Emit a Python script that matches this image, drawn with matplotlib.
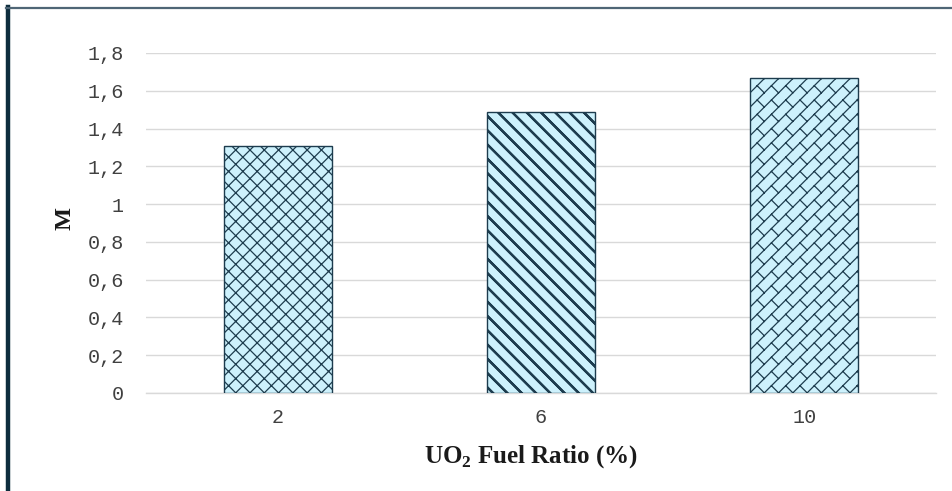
import warnings
warnings.filterwarnings("ignore")
import numpy as np
import matplotlib
matplotlib.use("Agg")
import matplotlib.pyplot as plt
import matplotlib.hatch as mhatch
from matplotlib.path import Path
from matplotlib.lines import Line2D

# ---------------- data ----------------
categories = ["2", "6", "10"]
values = [1.31, 1.49, 1.67]
yticks = [0, 0.2, 0.4, 0.6, 0.8, 1.0, 1.2, 1.4, 1.6, 1.8]
ytick_labels = ["0", "0,2", "0,4", "0,6", "0,8", "1", "1,2", "1,4", "1,6", "1,8"]
xlabel = r"UO$_\mathrm{2}$ Fuel Ratio (%)"
ylabel = "M"


# ---------------- custom hatches ----------------
class CrossHatch(mhatch.HatchPatternBase):
    def __init__(self, hatch, density):
        self.on = 'c' in hatch
        self.n = 7
        self.num_vertices = ((2 * self.n + 1) * 4) if self.on else 0

    def set_vertices_and_codes(self, vertices, codes):
        n = self.n
        i = 0
        for k in range(-n, n + 1):
            c = k / n
            vertices[i] = (-0.05, c - 0.05); codes[i] = Path.MOVETO; i += 1
            vertices[i] = (1.05, 1.05 + c); codes[i] = Path.LINETO; i += 1
            vertices[i] = (-0.05, 1 + c + 0.05); codes[i] = Path.MOVETO; i += 1
            vertices[i] = (1.05, c - 0.05); codes[i] = Path.LINETO; i += 1


class BrickHatch(mhatch.HatchPatternBase):
    def __init__(self, hatch, density):
        self.on = 'b' in hatch
        self.n = 7
        n = self.n
        self.nlines = 2 * n + 1
        self.rows = list(range(-n, n + 2))
        self.js = list(range(-1, n + 2))
        self.num_vertices = (self.nlines * 2 + len(self.rows) * len(self.js) * 2) if self.on else 0

    def set_vertices_and_codes(self, vertices, codes):
        n = self.n
        i = 0
        for k in range(-n, n + 1):
            c = k / n
            vertices[i] = (-0.05, c - 0.05); codes[i] = Path.MOVETO; i += 1
            vertices[i] = (1.05, 1.05 + c); codes[i] = Path.LINETO; i += 1
        d = 1 / (2 * n)
        for k in self.rows:
            for j in self.js:
                t = j / n
                vertices[i] = (t, t + k / n); codes[i] = Path.MOVETO; i += 1
                vertices[i] = (t + d, t + k / n - d); codes[i] = Path.LINETO; i += 1


class StripeHatch(mhatch.HatchPatternBase):
    def __init__(self, hatch, density):
        self.on = 's' in hatch
        self.n = 7
        self.offsets = [-0.009, -0.003, 0.003, 0.009]
        self.num_vertices = ((2 * self.n + 1) * 2 * len(self.offsets)) if self.on else 0

    def set_vertices_and_codes(self, vertices, codes):
        n = self.n
        i = 0
        for k in range(0, 2 * n + 1):
            c = k / n
            for o in self.offsets:
                vertices[i] = (-0.05, c + o + 0.05); codes[i] = Path.MOVETO; i += 1
                vertices[i] = (1.05, c + o - 1.05); codes[i] = Path.LINETO; i += 1


mhatch._hatch_types.extend([CrossHatch, BrickHatch, StripeHatch])

hatches = ["c", "s", "b"]

# ---------------- figure ----------------
plt.rcParams["mathtext.fontset"] = "custom"
plt.rcParams["mathtext.rm"] = "Liberation Serif:bold"
plt.rcParams["hatch.linewidth"] = 0.9

W, H = 952, 491
fig = plt.figure(figsize=(W / 100, H / 100), dpi=100)
fig.patch.set_facecolor("white")
ax = fig.add_axes([146 / W, 1 - 393 / H, (936 - 146) / W, (393 - 53) / H])

face = "#cdf1fc"
edge = "#1d3c4e"

x = np.arange(len(categories))
bars = ax.bar(x, values, width=0.41, color=face, edgecolor=edge, linewidth=1.0, zorder=3)
for b, h in zip(bars, hatches):
    b.set_hatch(h)

ax.set_xlim(-0.5, len(categories) - 0.5)
ax.set_ylim(0, 1.8)
ax.set_yticks(yticks)
ax.set_yticklabels(ytick_labels)
ax.set_xticks(x)
ax.set_xticklabels(categories)
ax.yaxis.grid(True, color="#d9d9d9", linewidth=1.0, zorder=0)
ax.set_axisbelow(True)
for s in ["top", "right", "left"]:
    ax.spines[s].set_visible(False)
ax.spines["bottom"].set_color("#d9d9d9")
ax.spines["bottom"].set_linewidth(1.0)
ax.tick_params(axis="both", length=0, labelsize=14.5, labelcolor="#404040")
ax.tick_params(axis="y", pad=16)
ax.tick_params(axis="x", pad=11)
for lab in ax.get_xticklabels() + ax.get_yticklabels():
    lab.set_fontfamily("Liberation Mono")

fig.text(531 / W, 1 - 457 / H, xlabel, ha="center", va="center",
         fontfamily="Liberation Serif", fontweight="bold", fontsize=18, color="#1a1a1a")
fig.text(65 / W, 1 - 219 / H, ylabel, rotation=90, ha="center", va="center",
         fontfamily="Liberation Serif", fontweight="bold", fontsize=17.5, color="#1a1a1a")

# frame lines
fig.add_artist(Line2D([7.5 / W, 7.5 / W], [0, 1 - 7 / H], color="#0d2d3d", linewidth=3.2,
                      transform=fig.transFigure))
fig.add_artist(Line2D([6 / W, 1], [1 - 7.8 / H, 1 - 7.8 / H], color="#4f6676", linewidth=1.6,
                      transform=fig.transFigure))

fig.savefig("out.png", dpi=100)
